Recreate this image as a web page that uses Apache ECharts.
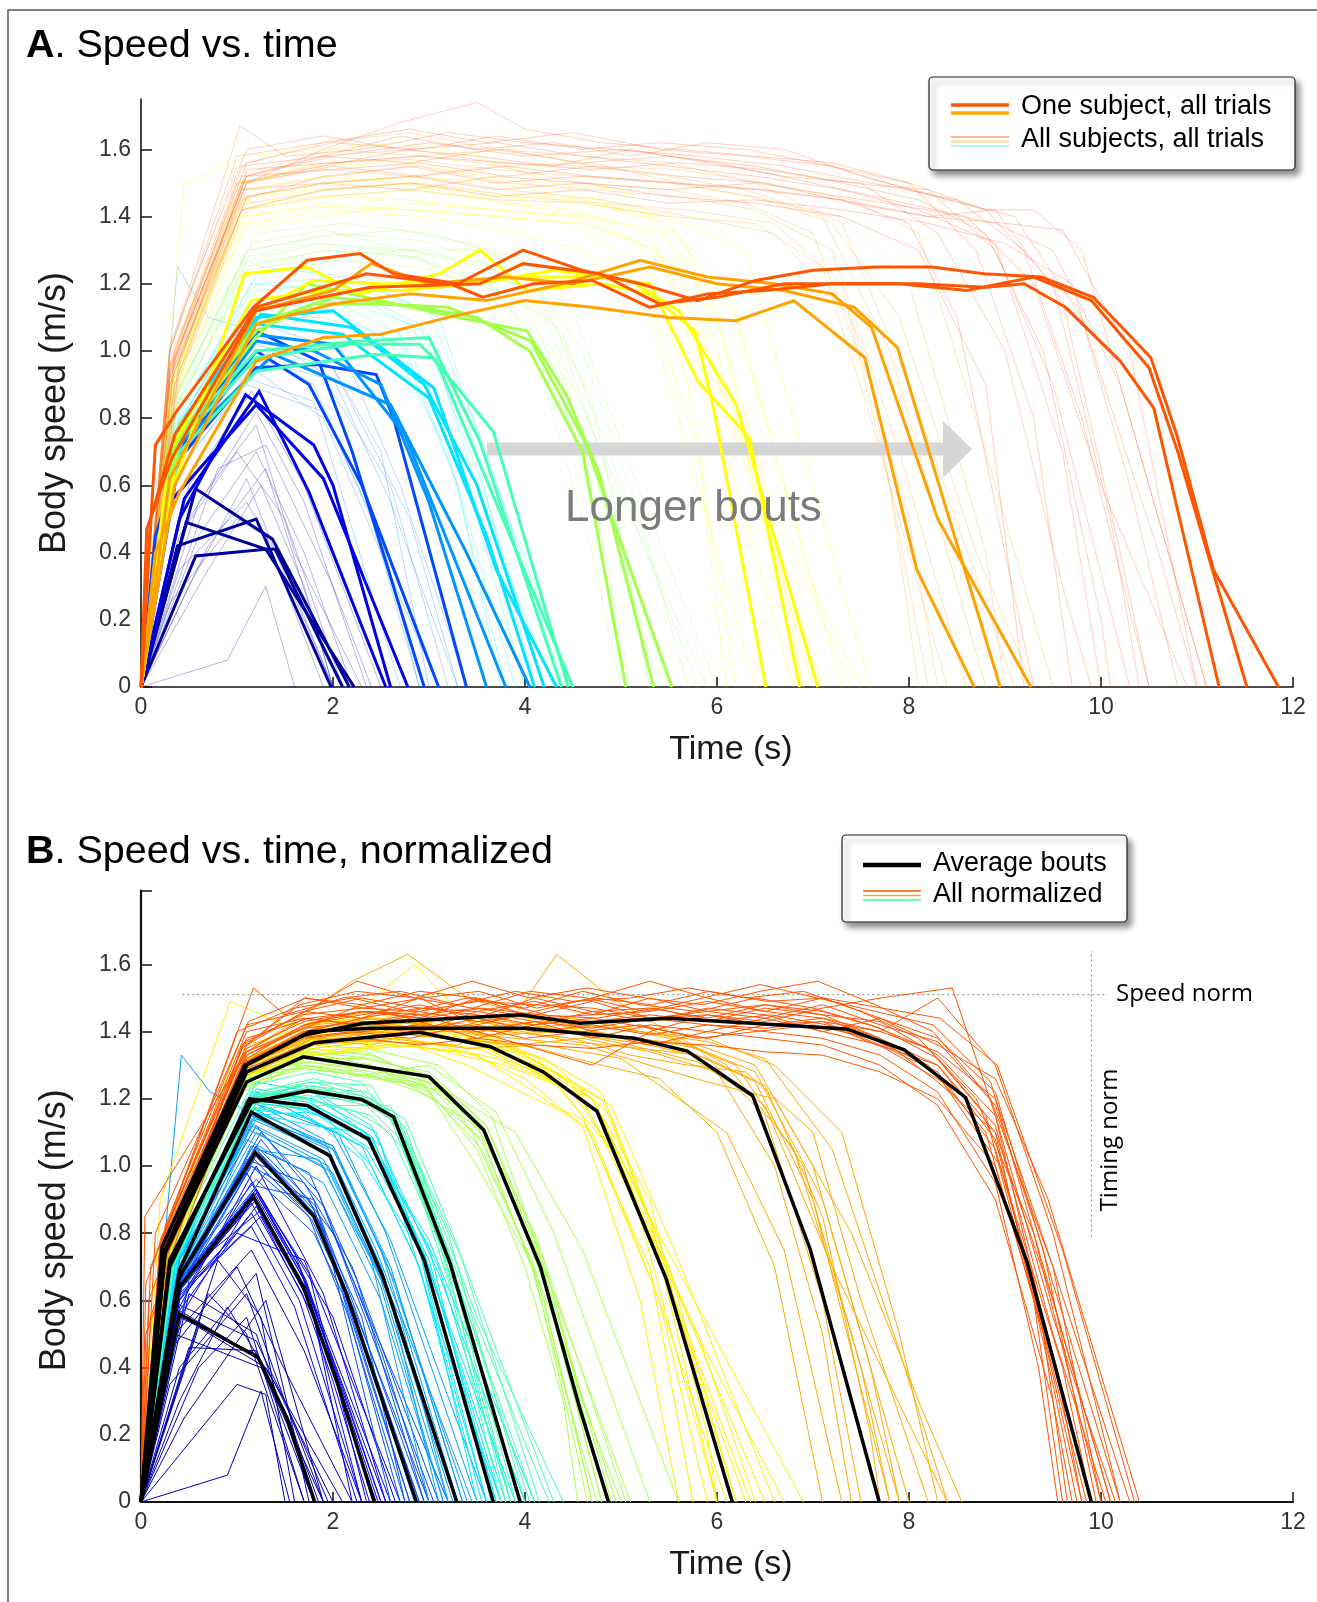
<!DOCTYPE html>
<html>
<head>
<meta charset="utf-8">
<script src="https://cdn.jsdelivr.net/npm/echarts@6.0.0/dist/echarts.min.js"></script>
<style>
  html, body { margin: 0; padding: 0; background: #fff; }
  #chart { width: 1317px; height: 1602px; }
</style>
</head>
<body>
<div id="chart"></div>
<script>
  // axis ticks
  var xTicks = [0, 2, 4, 6, 8, 10, 12];
  var yTicks = [0, 0.2, 0.4, 0.6, 0.8, 1.0, 1.2, 1.4, 1.6];
  var yMaxA = 1.75;
  var yMaxB = 1.82;

  // normalisation guides in panel B
  var speedNorm = 1.51;
  var speedNormSpan = [0.43, 10.07];
  var timingNorm = 9.9;
  var timingNormSpan = [0.79, 1.64];

  // ---- panel A : one subject, all trials (bold), flat [t, v, t, v, ...]
  var boldNavy = [
    [0,0, .57,.59, 1.37,.44, 2.17,0],
    [0,0, .47,.49, 1.3,.41, 1.4,.41, 2.1,0],
    [0,0, .38,.42, 1.2,.50, 1.98,0],
    [0,0, .57,.39, 1.3,.41, 2.22,0]
  ];
  var boldBlue = [
    [0,0, .4,.5, 1.09,.87, 1.8,.72, 2.0,.6, 2.6,0],
    [0,0, .45,.56, 1.23,.88, 1.75,.58, 2.55,0],
    [0,0, .3,.55, 1.2,.84, 1.9,.62, 2.78,0]
  ];
  var boldMidBlue = [
    [0,0, .15,.45, .45,.72, 1.2,1.06, 1.85,.97, 2.2,.7, 2.95,0],
    [0,0, .4,.68, 1.2,.95, 1.83,.96, 2.45,.93, 2.63,.8, 3.39,0],
    [0,0, .4,.7, 1.2,1.0, 1.75,.9, 2.3,.6, 3.1,0]
  ];
  var boldAzure = [
    [0,0, .4,.72, 1.38,.99, 2.6,.84, 3.39,.40, 4.05,0],
    [0,0, .4,.72, 1.2,1.03, 1.8,1.0, 2.5,.9, 3.0,.55, 3.6,0],
    [0,0, .3,.68, 1.15,1.05, 2.0,1.02, 2.75,.75, 3.8,0]
  ];
  var boldCyan = [
    [0,0, .35,.75, 1.2,1.1, 2.0,1.12, 3.05,.89, 3.15,.81, 3.7,.35, 4.33,0],
    [0,0, .35,.72, 1.2,1.08, 2.1,1.05, 3.0,.86, 3.6,.45, 4.1,0],
    [0,0, .4,.78, 1.25,1.11, 2.2,1.07, 2.95,.9, 3.5,.6, 4.2,0]
  ];
  var boldTeal = [
    [0,0, .4,.7, 1.2,.94, 2.45,.99, 3.04,.98, 3.67,.76, 4.45,0],
    [0,0, .4,.75, 1.2,1.0, 2.3,1.03, 3.0,1.04, 3.53,.73, 4.38,0],
    [0,0, .4,.73, 1.2,.98, 2.2,1.02, 2.9,1.02, 3.08,.97, 3.36,.78, 4.5,0]
  ];
  var boldGreen = [
    [0,0, .4,.75, 1.17,1.03, 1.73,1.2, 2.5,1.15, 3.29,1.1, 4.02,1.06, 4.43,.87, 4.78,.63, 5.34,0],
    [0,0, .4,.78, 1.2,1.06, 1.8,1.14, 2.5,1.14, 3.2,1.13, 4.06,1.03, 4.44,.83, 4.64,.72, 5.53,0],
    [0,0, .35,.72, 1.2,1.08, 2.0,1.16, 2.9,1.13, 3.5,1.1, 4.05,1.0, 4.6,.7, 5.05,0]
  ];
  var boldYellow = [
    [0,0, .32,.58, 1.08,1.23, 1.73,1.25, 2.28,1.17, 3.11,1.23, 3.53,1.3, 4.02,1.18, 4.8,1.2, 5.3,1.17, 5.77,1.06, 5.95,.85, 6.51,0],
    [0,0, .35,.65, 1.2,1.12, 1.8,1.21, 2.5,1.2, 3.3,1.2, 4.0,1.22, 4.7,1.22, 5.3,1.2, 5.8,.91, 6.34,.74, 6.86,0],
    [0,0, .3,.7, 1.15,1.15, 1.9,1.18, 2.7,1.18, 3.5,1.2, 4.3,1.24, 5.1,1.21, 5.6,1.12, 6.2,.84, 7.05,0]
  ];
  var boldOrange = [
    [0,0, .15,.4, .4,.58, 1.2,.97, 1.9,1.04, 2.5,1.05, 3.2,1.1, 4.0,1.15, 4.7,1.13, 5.5,1.1, 6.2,1.09, 6.8,1.15, 7.54,.98, 8.08,.35, 8.68,0],
    [0,0, .3,.62, 1.2,1.12, 2.0,1.18, 2.4,1.26, 3.0,1.2, 3.8,1.22, 4.5,1.2, 5.3,1.25, 6.0,1.2, 6.7,1.18, 7.43,1.13, 7.88,1.01, 8.95,0],
    [0,0, .35,.6, 1.2,1.08, 2.0,1.14, 2.8,1.17, 3.6,1.15, 4.4,1.2, 5.2,1.27, 5.9,1.22, 6.6,1.2, 7.2,1.17, 7.61,1.07, 8.3,.5, 9.27,0]
  ];
  var boldRed = [
    [0,0, .15,.72, .37,.82, 1.17,1.13, 1.73,1.27, 2.28,1.29, 2.63,1.23, 3.3,1.2, 3.98,1.3, 4.6,1.24, 5.2,1.2, 5.8,1.15, 6.4,1.21, 7.0,1.24, 7.65,1.25, 8.24,1.25, 8.78,1.23, 9.38,1.22, 9.92,1.16, 10.52,.98, 10.79,.75, 11.17,.35, 11.85,0],
    [0,0, .06,.47, .32,.68, 1.19,1.12, 2.39,1.19, 3.53,1.2, 3.98,1.26, 4.78,1.23, 5.4,1.14, 6.0,1.16, 6.7,1.2, 7.4,1.2, 8.1,1.2, 8.8,1.19, 9.2,1.2, 9.63,1.13, 10.2,.97, 10.55,.83, 11.23,0],
    [0,0, .1,.5, .35,.75, 1.2,1.13, 2.35,1.23, 3.22,1.2, 3.56,1.16, 4.09,1.2, 4.7,1.21, 5.3,1.13, 5.9,1.17, 6.5,1.18, 7.2,1.2, 7.9,1.2, 8.6,1.18, 9.3,1.22, 9.9,1.15, 10.5,.95, 10.8,.7, 11.52,0]
  ];

  // ---- panel A : all subjects, all trials (pale)
  var paleNavy = [
    [0,0, .5,.3, 1.1,.62, 1.4,.4, 2.0,0],
    [0,0, .9,.08, 1.3,.3, 1.6,0],
    [0,0, .6,.55, 1.2,.78, 1.6,.4, 2.3,0],
    [0,0, .4,.45, 1.0,.7, 1.5,.5, 2.1,0],
    [0,0, .7,.35, 1.25,.6, 1.7,.3, 2.0,0],
    [0,0, .5,.6, 1.15,.88, 1.7,.6, 2.5,0],
    [0,0, .3,.25, 1.0,.5, 1.3,.45, 1.9,0],
    [0,0, .8,.65, 1.3,.72, 2.0,.3, 2.4,0],
    [0,0, .6,.45, 1.2,.7, 1.7,.4, 2.2,0],
    [0,0, .4,.35, 1.1,.55, 1.5,.35, 2.0,0],
    [0,0, .5,.5, 1.2,.82, 1.7,.55, 2.35,0],
    [0,0, .7,.42, 1.3,.65, 1.8,.2, 2.0,0]
  ];
  var paleBlue = [
    [0,0, .4,.7, 1.2,1.0, 1.8,.9, 2.4,.5, 2.9,0],
    [0,0, .35,.65, 1.15,.95, 1.9,.8, 3.1,0],
    [0,0, .4,.72, 1.2,1.05, 2.0,.92, 2.6,.55, 3.3,0],
    [0,0, .3,.6, 1.1,.92, 1.8,.85, 2.7,0],
    [0,0, .45,.75, 1.25,1.08, 2.1,1.0, 2.7,.6, 3.4,0],
    [0,0, .38,1.25, .7,1.1, 1.3,1.05, 2.0,.95, 2.8,.5, 3.3,0],
    [0,0, .35,.66, 1.15,.98, 1.9,.92, 2.6,.6, 3.2,0],
    [0,0, .4,.7, 1.2,1.02, 2.0,.95, 2.5,.7, 3.0,0],
    [0,0, .3,.62, 1.1,.9, 1.9,.82, 2.5,.45, 2.9,0]
  ];
  var paleCyan = [
    [0,0, .4,.8, 1.2,1.15, 2.0,1.12, 2.8,1.0, 3.4,.6, 4.0,0],
    [0,0, .35,.78, 1.15,1.2, 2.1,1.18, 3.0,1.05, 3.6,.5, 4.3,0],
    [0,0, .3,.75, 1.1,1.1, 1.9,1.1, 2.6,1.02, 3.2,.7, 3.8,0],
    [0,0, .4,.82, 1.25,1.25, 2.2,1.22, 3.1,1.1, 3.7,.6, 4.5,0],
    [0,0, .35,.76, 1.2,1.18, 2.0,1.2, 2.9,1.08, 3.5,.65, 4.2,0],
    [0,0, .3,.7, 1.1,1.12, 2.0,1.15, 2.7,1.05, 3.3,.6, 3.9,0],
    [0,0, .35,.76, 1.15,1.15, 2.0,1.16, 2.8,1.08, 3.4,.8, 4.1,0],
    [0,0, .35,.8, 1.2,1.2, 2.1,1.22, 3.0,1.12, 3.6,.7, 4.4,0],
    [0,0, .3,.72, 1.1,1.1, 1.9,1.12, 2.7,1.02, 3.3,.6, 3.75,0]
  ];
  var paleGreen = [
    [0,0, .3,.85, 1.1,1.25, 1.9,1.3, 2.8,1.28, 3.6,1.2, 4.3,1.0, 4.9,.5, 5.5,0],
    [0,0, .35,.8, 1.15,1.3, 2.0,1.35, 2.9,1.33, 3.8,1.25, 4.4,.9, 5.0,.4, 5.4,0],
    [0,0, .3,.9, 1.1,1.28, 1.8,1.32, 2.6,1.3, 3.5,1.22, 4.2,1.1, 4.8,.7, 5.9,0],
    [0,0, .4,.88, 1.2,1.35, 2.1,1.38, 3.0,1.35, 3.9,1.28, 4.6,1.0, 5.2,.5, 5.7,0],
    [0,0, .3,.8, 1.1,1.22, 2.0,1.27, 2.9,1.25, 3.7,1.18, 4.3,.95, 4.8,.45, 5.1,0],
    [0,0, .35,.86, 1.15,1.32, 1.9,1.36, 2.8,1.3, 3.6,1.3, 4.5,1.12, 5.1,.65, 6.0,0],
    [0,0, .3,.82, 1.1,1.3, 1.9,1.34, 2.7,1.36, 3.4,1.32, 4.0,1.25, 4.7,.85, 5.3,0],
    [0,0, .3,.84, 1.1,1.27, 1.9,1.32, 2.8,1.3, 3.6,1.26, 4.3,1.1, 4.9,.6, 5.3,0],
    [0,0, .35,.82, 1.1,1.24, 1.9,1.28, 2.8,1.3, 3.7,1.24, 4.4,1.05, 5.0,.6, 5.8,0],
    [0,0, .3,.8, 1.15,1.26, 2.0,1.3, 2.9,1.28, 3.6,1.15, 4.2,.9, 4.7,.4, 5.0,0]
  ];
  var paleYellow = [
    [0,0, .3,.9, 1.0,1.45, 1.8,1.48, 2.7,1.5, 3.6,1.45, 4.5,1.42, 5.3,1.35, 5.9,1.0, 6.6,.4, 7.0,0],
    [0,0, .35,.85, 1.1,1.4, 1.9,1.44, 2.8,1.42, 3.7,1.4, 4.6,1.38, 5.4,1.3, 6.0,.8, 6.8,0],
    [0,0, .3,.95, 1.0,1.5, 1.8,1.55, 2.7,1.56, 3.6,1.52, 4.4,1.48, 5.2,1.42, 5.9,1.2, 6.5,.6, 7.4,0],
    [0,0, .4,.9, 1.1,1.38, 2.0,1.42, 2.9,1.4, 3.8,1.36, 4.6,1.3, 5.3,1.1, 5.9,.5, 6.4,0],
    [0,0, .3,.88, 1.05,1.48, 1.9,1.52, 2.8,1.5, 3.7,1.47, 4.6,1.45, 5.5,1.38, 6.2,1.1, 7.0,.3, 7.5,0],
    [0,0, .35,.92, 1.1,1.42, 2.0,1.46, 2.9,1.48, 3.8,1.44, 4.7,1.4, 5.6,1.25, 6.3,.7, 6.9,0],
    [0,0, .45,1.5, 1.1,1.58, 1.9,1.6, 2.7,1.62, 3.5,1.58, 4.3,1.5, 5.0,1.48, 5.7,1.3, 6.4,.6, 7.1,0],
    [0,0, .3,.86, 1.0,1.36, 1.9,1.4, 2.8,1.44, 3.7,1.42, 4.5,1.4, 5.2,1.32, 5.7,.9, 6.2,0],
    [0,0, .3,.9, 1.05,1.44, 1.9,1.46, 2.8,1.45, 3.7,1.42, 4.6,1.4, 5.4,1.36, 6.0,1.1, 6.7,.3, 6.9,0],
    [0,0, .35,.92, 1.1,1.46, 1.9,1.5, 2.8,1.52, 3.7,1.5, 4.6,1.45, 5.4,1.4, 6.1,1.2, 6.8,.5, 7.3,0],
    [0,0, .3,.86, 1.0,1.4, 1.9,1.43, 2.8,1.42, 3.7,1.4, 4.5,1.38, 5.2,1.25, 5.8,.7, 6.1,0],
    [0,0, .3,.88, 1.05,1.42, 1.9,1.48, 2.8,1.5, 3.7,1.46, 4.6,1.44, 5.5,1.4, 6.3,1.3, 7.0,.6, 7.6,0]
  ];
  var paleOrange = [
    [0,0, .3,.95, 1.05,1.52, 1.9,1.58, 2.8,1.6, 3.7,1.56, 4.6,1.55, 5.5,1.52, 6.3,1.48, 7.1,1.4, 7.8,1.0, 8.5,.3, 8.8,0],
    [0,0, .35,.9, 1.1,1.48, 2.0,1.52, 2.9,1.55, 3.8,1.5, 4.7,1.48, 5.6,1.46, 6.4,1.42, 7.2,1.3, 7.9,.7, 8.6,0],
    [0,0, .3,1.0, 1.0,1.55, 1.9,1.62, 2.8,1.65, 3.7,1.6, 4.6,1.58, 5.5,1.56, 6.4,1.5, 7.3,1.38, 8.0,.9, 9.1,0],
    [0,0, .4,.92, 1.1,1.46, 2.0,1.5, 2.9,1.52, 3.8,1.48, 4.8,1.45, 5.7,1.4, 6.6,1.35, 7.4,1.1, 8.0,.5, 8.3,0],
    [0,0, .3,.96, 1.05,1.5, 1.9,1.56, 2.8,1.57, 3.7,1.54, 4.6,1.52, 5.5,1.5, 6.4,1.46, 7.2,1.38, 7.9,1.1, 8.7,.4, 9.3,0],
    [0,0, .35,.88, 1.1,1.44, 2.0,1.48, 2.9,1.5, 3.9,1.46, 4.8,1.44, 5.7,1.42, 6.6,1.38, 7.3,1.2, 7.8,.6, 8.1,0],
    [0,0, .3,.93, 1.05,1.5, 1.9,1.54, 2.8,1.52, 3.7,1.55, 4.6,1.5, 5.5,1.48, 6.3,1.44, 7.0,1.35, 7.6,.9, 8.2,0],
    [0,0, .35,.94, 1.1,1.5, 2.0,1.56, 2.9,1.58, 3.8,1.55, 4.7,1.56, 5.6,1.5, 6.5,1.45, 7.3,1.4, 8.0,1.2, 8.8,.4, 9.0,0],
    [0,0, .3,.9, 1.05,1.42, 1.9,1.46, 2.8,1.48, 3.7,1.45, 4.6,1.44, 5.5,1.4, 6.4,1.38, 7.1,1.25, 7.6,.8, 8.4,0],
    [0,0, .3,.98, 1.1,1.53, 2.0,1.6, 2.9,1.58, 3.8,1.6, 4.7,1.55, 5.6,1.54, 6.5,1.5, 7.4,1.45, 8.1,1.35, 8.8,.7, 9.5,0]
  ];
  var paleRed = [
    [0,0, .3,1.0, 1.03,1.67, 1.5,1.58, 2.3,1.6, 3.2,1.65, 4.0,1.62, 4.9,1.6, 5.8,1.58, 6.7,1.55, 7.6,1.5, 8.5,1.45, 9.2,1.3, 9.8,.8, 10.5,0],
    [0,0, .3,.95, 1.1,1.5, 1.9,1.6, 2.7,1.68, 3.5,1.74, 4.0,1.66, 4.8,1.62, 5.6,1.6, 6.4,1.58, 7.2,1.56, 8.0,1.5, 8.8,1.42, 9.5,1.2, 10.1,.5, 10.4,0],
    [0,0, .35,.98, 1.1,1.52, 1.9,1.58, 2.7,1.64, 3.5,1.6, 4.3,1.62, 5.1,1.58, 5.9,1.62, 6.7,1.6, 7.5,1.52, 8.3,1.46, 9.1,1.4, 9.8,1.1, 10.6,.4, 11.0,0],
    [0,0, .3,.9, 1.05,1.45, 1.9,1.52, 2.8,1.55, 3.7,1.5, 4.6,1.52, 5.5,1.5, 6.4,1.48, 7.3,1.45, 8.2,1.4, 8.9,1.42, 9.6,1.15, 10.2,.4, 10.5,0],
    [0,0, .3,1.02, 1.1,1.6, 1.9,1.64, 2.7,1.6, 3.5,1.58, 4.3,1.55, 5.1,1.6, 5.9,1.56, 6.7,1.52, 7.5,1.5, 8.3,1.35, 9.0,1.0, 9.6,.3, 9.9,0],
    [0,0, .4,.96, 1.1,1.54, 2.0,1.56, 2.9,1.58, 3.8,1.56, 4.7,1.54, 5.6,1.56, 6.5,1.54, 7.4,1.5, 8.2,1.48, 8.9,1.3, 9.5,.9, 10.3,0],
    [0,0, .3,.93, 1.0,1.5, 1.9,1.55, 2.8,1.6, 3.7,1.62, 4.6,1.58, 5.5,1.55, 6.4,1.52, 7.3,1.48, 8.1,1.42, 8.9,1.32, 9.6,.7, 10.0,0],
    [0,0, .35,1.0, 1.1,1.56, 2.0,1.62, 2.9,1.6, 3.7,1.64, 4.6,1.6, 5.4,1.62, 6.3,1.6, 7.2,1.55, 8.0,1.48, 8.8,1.42, 9.3,1.42, 9.8,1.3, 10.6,.5, 11.1,0],
    [0,0, .3,.92, 1.05,1.48, 1.9,1.5, 2.8,1.52, 3.7,1.48, 4.6,1.5, 5.5,1.46, 6.4,1.44, 7.3,1.4, 8.1,1.3, 8.8,.9, 9.2,0],
    [0,0, .35,.97, 1.1,1.52, 2.0,1.58, 3.0,1.62, 4.0,1.58, 5.0,1.6, 6.0,1.56, 7.0,1.5, 7.8,1.45, 8.6,1.4, 9.3,1.2, 10.0,.6, 10.9,0],
    [0,0, .3,.96, 1.05,1.55, 1.9,1.58, 2.8,1.56, 3.7,1.6, 4.6,1.56, 5.5,1.58, 6.4,1.55, 7.3,1.5, 8.1,1.45, 8.8,1.35, 9.4,1.0, 10.0,.2, 10.1,0],
    [0,0, .35,.9, 1.1,1.46, 1.9,1.5, 2.8,1.48, 3.7,1.52, 4.6,1.5, 5.5,1.48, 6.4,1.5, 7.3,1.46, 8.2,1.42, 8.9,1.38, 9.5,1.3, 10.2,.9, 10.9,.2, 11.1,0],
    [0,0, .3,1.0, 1.0,1.58, 1.9,1.62, 2.8,1.66, 3.6,1.62, 4.5,1.65, 5.4,1.6, 6.3,1.58, 7.2,1.55, 8.0,1.5, 8.7,1.3, 9.3,.8, 9.7,0],
    [0,0, .3,.94, 1.1,1.52, 2.0,1.54, 2.9,1.56, 3.8,1.52, 4.7,1.55, 5.6,1.52, 6.5,1.5, 7.4,1.44, 8.2,1.4, 9.0,1.38, 9.6,1.36, 10.3,1.0, 11.0,0],
    [0,0, .4,.98, 1.1,1.5, 2.0,1.55, 2.9,1.52, 3.8,1.55, 4.7,1.52, 5.6,1.5, 6.5,1.48, 7.3,1.45, 8.0,1.38, 8.5,1.1, 9.0,.4, 9.3,0],
    [0,0, .3,.92, 1.05,1.42, 1.9,1.48, 2.8,1.5, 3.7,1.46, 4.6,1.48, 5.5,1.44, 6.4,1.45, 7.3,1.42, 8.2,1.38, 9.0,1.32, 9.7,1.2, 10.3,.6, 10.8,0]
  ];

  // ---- panel B : all normalized bouts, grouped by duration
  var normNavy = [
    [0,0, .3,.35, 1.1,.62, 1.5,.3, 1.9,0],
    [0,0, .5,.46, 1.2,.45, 1.8,0],
    [0,0, .6,.52, 1.3,.4, 2.1,0],
    [0,0, .7,.62, 1.1,.5, 1.7,0],
    [0,0, .4,.3, .9,.58, 1.4,.35, 2.0,0],
    [0,0, .3,.45, 1.0,.7, 1.45,.42, 2.2,0],
    [0,0, .8,.72, 1.25,.55, 1.6,0],
    [0,0, .45,.25, 1.3,.6, 1.9,0],
    [0,0, .9,.08, 1.25,.33, 1.55,0],
    [0,0, .35,.5, 1.15,.75, 1.7,.45, 2.3,0],
    [0,0, .4,.4, 1.2,.68, 1.6,.2, 1.75,0],
    [0,0, 1.0,.35, 1.3,.32, 1.5,0],
    [0,0, .4,.55, 1.2,.44, 1.5,.26, 1.8,0],
    [0,0, .4,.57, 1.22,.43, 1.55,.24, 1.85,0],
    [0,0, .5,.62, 1.2,.5, 1.8,0],
    [0,0, .35,.5, 1.25,.4, 1.9,0],
    [0,0, .6,.4, 1.1,.55, 1.7,0],
    [0,0, .3,.6, 1.2,.48, 1.5,.3, 1.95,0]
  ];
  var normBlue = [
    [0,0, .4,.6, 1.15,.95, 1.7,.66, 2.5,0],
    [0,0, .35,.55, 1.2,.88, 1.75,.6, 2.3,0],
    [0,0, .45,.7, 1.1,.98, 1.6,.74, 2.6,0],
    [0,0, .4,.62, 1.25,.85, 1.8,.55, 2.2,0],
    [0,0, .3,.5, 1.2,.92, 1.65,.7, 2.1,.3, 2.45,0],
    [0,0, .5,.65, 1.0,.8, 1.7,.72, 2.7,0],
    [0,0, .4,.58, 1.2,1.0, 1.9,.62, 2.55,0],
    [0,0, .45,.68, 1.3,.88, 1.75,.68, 2.35,0],
    [0,0, .35,.6, 1.15,.82, 1.6,.58, 2.25,0],
    [0,0, .4,.66, 1.2,.93, 2.0,.55, 2.65,0],
    [0,0, .4,.63, 1.17,.9, 1.7,.64, 2.05,.36, 2.42,0],
    [0,0, .4,.65, 1.18,.92, 1.7,.66, 2.1,.34, 2.5,0],
    [0,0, .38,.62, 1.15,.89, 1.68,.62, 2.0,.36, 2.38,0],
    [0,0, .42,.66, 1.2,.93, 1.72,.66, 2.1,.32, 2.47,0],
    [0,0, .4,.6, 1.15,.86, 1.65,.6, 2.3,0],
    [0,0, .4,.64, 1.2,.9, 1.75,.62, 2.55,0]
  ];
  var normMidBlue = [
    [0,0, .4,.65, 1.2,1.05, 1.8,.86, 2.15,.6, 2.9,0],
    [0,0, .35,.6, 1.15,1.0, 1.75,.9, 2.3,.55, 2.75,0],
    [0,0, .45,.7, 1.25,1.1, 1.85,.92, 2.4,.5, 3.05,0],
    [0,0, .4,.68, 1.2,.96, 1.8,.8, 2.1,.62, 2.7,0],
    [0,0, .3,.58, 1.1,1.02, 1.7,.95, 2.2,.7, 3.1,0],
    [0,0, .4,.72, 1.2,1.12, 1.9,.88, 2.5,.45, 3.0,0],
    [0,0, .5,.66, 1.3,.98, 1.9,.82, 2.6,0],
    [0,0, .4,.62, 1.15,1.06, 1.75,.98, 2.25,.66, 2.95,0],
    [0,0, .35,.64, 1.2,.94, 1.8,.9, 2.35,.4, 2.8,0],
    [0,0, .45,.7, 1.25,1.08, 2.0,.8, 3.2,0],
    [0,0, .4,.66, 1.19,1.03, 1.8,.86, 2.15,.62, 2.85,0],
    [0,0, .4,.68, 1.2,1.05, 1.8,.87, 2.2,.58, 2.9,0],
    [0,0, .38,.65, 1.18,1.02, 1.78,.84, 2.1,.64, 2.8,0],
    [0,0, .42,.69, 1.2,1.06, 1.82,.88, 2.2,.6, 2.95,0],
    [0,0, .4,.64, 1.15,1.0, 1.75,.85, 2.15,.56, 2.75,0],
    [0,0, .4,.67, 1.22,1.04, 1.85,.84, 2.25,.55, 3.0,0]
  ];
  var normAzure = [
    [0,0, .4,.7, 1.15,1.15, 1.95,1.05, 2.5,.7, 3.3,0],
    [0,0, .35,.66, 1.2,1.1, 2.0,.98, 2.6,.6, 3.1,0],
    [0,0, .4,.72, 1.1,1.2, 1.9,1.08, 2.45,.75, 3.45,0],
    [0,0, .3,.62, 1.15,1.12, 1.95,1.0, 2.7,.55, 3.2,0],
    [0,0, .45,.74, 1.25,1.18, 2.05,1.1, 2.55,.8, 3.5,0],
    [0,0, .4,.68, 1.15,1.05, 1.85,1.02, 2.4,.72, 3.0,0],
    [0,0, .35,.7, 1.2,1.14, 2.0,1.06, 2.65,.65, 3.35,0],
    [0,0, .4,.64, 1.1,1.08, 1.9,.95, 2.5,.6, 3.15,0],
    [0,0, .42,.76, 1.2,1.22, 2.0,1.1, 2.6,.78, 3.6,0],
    [0,0, .42,1.33, .72,1.22, 1.2,1.15, 2.0,1.05, 2.5,.75, 3.3,0],
    [0,0, .4,.69, 1.15,1.14, 1.95,1.04, 2.5,.7, 3.3,0],
    [0,0, .38,.68, 1.12,1.13, 1.9,1.02, 2.5,.66, 3.2,0],
    [0,0, .42,.71, 1.18,1.17, 2.0,1.05, 2.55,.72, 3.4,0],
    [0,0, .4,.7, 1.15,1.15, 1.95,1.03, 2.45,.73, 3.25,0],
    [0,0, .36,.66, 1.1,1.11, 1.9,1.0, 2.5,.64, 3.15,0],
    [0,0, .4,.72, 1.2,1.16, 2.0,1.06, 2.6,.7, 3.35,0]
  ];
  var normCyan = [
    [0,0, .3,.7, 1.13,1.2, 1.73,1.18, 2.37,1.08, 2.95,.72, 3.7,0],
    [0,0, .35,.72, 1.15,1.22, 1.8,1.2, 2.45,1.1, 3.05,.65, 3.9,0],
    [0,0, .3,.66, 1.1,1.15, 1.7,1.16, 2.3,1.02, 2.9,.75, 3.5,0],
    [0,0, .4,.75, 1.2,1.25, 1.8,1.22, 2.4,1.12, 3.1,.68, 4.0,0],
    [0,0, .3,.68, 1.1,1.18, 1.75,1.14, 2.35,1.05, 2.85,.8, 3.6,0],
    [0,0, .35,.7, 1.15,1.2, 1.7,1.24, 2.5,1.06, 3.0,.6, 3.75,0],
    [0,0, .3,.64, 1.12,1.16, 1.8,1.12, 2.3,1.1, 3.0,.78, 4.1,0],
    [0,0, .38,.74, 1.2,1.23, 1.75,1.2, 2.4,1.0, 2.9,.7, 3.55,0],
    [0,0, .32,.69, 1.1,1.19, 1.7,1.17, 2.4,1.08, 3.1,.7, 3.85,0],
    [0,0, .36,.71, 1.18,1.21, 1.85,1.15, 2.45,1.04, 3.0,.76, 3.65,0],
    [0,0, .3,.69, 1.12,1.19, 1.75,1.17, 2.4,1.07, 3.0,.72, 3.7,0],
    [0,0, .35,.72, 1.15,1.21, 1.75,1.19, 2.35,1.1, 2.95,.74, 3.8,0],
    [0,0, .3,.68, 1.1,1.17, 1.7,1.15, 2.3,1.06, 2.9,.7, 3.6,0],
    [0,0, .34,.71, 1.15,1.2, 1.8,1.18, 2.4,1.09, 3.0,.7, 3.75,0]
  ];
  var normTeal = [
    [0,0, .3,.72, 1.15,1.19, 1.74,1.22, 2.3,1.2, 2.63,1.15, 3.22,.71, 3.95,0],
    [0,0, .35,.75, 1.2,1.22, 1.8,1.26, 2.35,1.22, 2.7,1.12, 3.3,.65, 4.1,0],
    [0,0, .3,.7, 1.1,1.15, 1.7,1.2, 2.25,1.16, 2.6,1.1, 3.15,.75, 3.8,0],
    [0,0, .32,.74, 1.18,1.2, 1.75,1.25, 2.4,1.24, 2.8,1.05, 3.4,.6, 4.25,0],
    [0,0, .3,.68, 1.12,1.17, 1.7,1.18, 2.3,1.18, 2.6,1.18, 3.2,.8, 4.0,0],
    [0,0, .35,.73, 1.2,1.21, 1.8,1.23, 2.3,1.21, 2.75,1.12, 3.25,.7, 3.9,0],
    [0,0, .28,.7, 1.1,1.18, 1.72,1.21, 2.35,1.19, 2.65,1.16, 3.35,.72, 4.3,0],
    [0,0, .33,.76, 1.15,1.24, 1.78,1.28, 2.3,1.25, 2.7,1.1, 3.2,.66, 3.75,0],
    [0,0, .3,.71, 1.15,1.2, 1.75,1.2, 2.4,1.15, 2.9,1.0, 3.5,.55, 4.4,0],
    [0,0, .35,.72, 1.2,1.19, 1.8,1.24, 2.25,1.2, 2.6,1.14, 3.1,.78, 3.85,0],
    [0,0, .3,.72, 1.15,1.2, 1.75,1.23, 2.3,1.2, 2.7,1.12, 3.25,.7, 3.95,0],
    [0,0, .32,.73, 1.15,1.21, 1.7,1.24, 2.3,1.22, 2.65,1.14, 3.2,.74, 4.05,0],
    [0,0, .3,.7, 1.12,1.18, 1.75,1.22, 2.35,1.18, 2.7,1.08, 3.3,.62, 3.85,0],
    [0,0, .33,.74, 1.18,1.22, 1.8,1.25, 2.4,1.2, 2.75,1.14, 3.3,.76, 4.15,0]
  ];
  var normGreen = [
    [0,0, .25,.74, 1.1,1.25, 1.7,1.33, 2.3,1.3, 3.0,1.27, 3.57,1.1, 4.16,.7, 4.57,.28, 4.87,0],
    [0,0, .3,.76, 1.1,1.28, 1.75,1.35, 2.4,1.33, 3.05,1.25, 3.6,1.05, 4.2,.6, 4.7,0],
    [0,0, .25,.7, 1.05,1.22, 1.65,1.3, 2.3,1.28, 2.9,1.22, 3.5,1.12, 4.1,.78, 4.6,.3, 5.0,0],
    [0,0, .3,.75, 1.15,1.27, 1.7,1.36, 2.35,1.35, 3.1,1.3, 3.65,1.15, 4.25,.66, 4.9,0],
    [0,0, .25,.72, 1.1,1.24, 1.7,1.3, 2.4,1.26, 2.95,1.24, 3.5,1.0, 4.05,.72, 4.4,.35, 4.75,0],
    [0,0, .28,.74, 1.1,1.26, 1.75,1.32, 2.3,1.32, 3.0,1.28, 3.6,1.12, 4.3,.62, 5.1,0],
    [0,0, .25,.73, 1.12,1.25, 1.68,1.34, 2.4,1.3, 3.05,1.2, 3.55,1.08, 4.1,.68, 4.5,.2, 4.65,0],
    [0,0, .3,.77, 1.1,1.28, 1.7,1.29, 2.3,1.27, 3.0,1.3, 3.7,1.16, 4.3,.8, 5.3,0],
    [0,0, .26,.71, 1.08,1.23, 1.72,1.33, 2.35,1.34, 2.95,1.26, 3.45,1.1, 4.0,.76, 4.5,.4, 4.95,0],
    [0,0, .25,.75, 1.1,1.27, 1.7,1.31, 2.4,1.29, 3.1,1.24, 3.65,1.06, 4.2,.66, 4.8,0],
    [0,0, .3,.74, 1.1,1.26, 1.8,1.3, 2.5,1.26, 3.2,1.22, 3.9,1.1, 4.6,.75, 5.2,.3, 5.6,0],
    [0,0, .25,.73, 1.1,1.26, 1.7,1.32, 2.35,1.3, 3.0,1.25, 3.6,1.1, 4.2,.65, 4.8,0],
    [0,0, .3,.75, 1.1,1.27, 1.75,1.31, 2.4,1.28, 3.0,1.22, 3.55,1.05, 4.1,.7, 4.5,.25, 4.7,0],
    [0,0, .25,.72, 1.05,1.24, 1.7,1.29, 2.3,1.27, 2.9,1.25, 3.5,1.14, 4.1,.8, 4.7,.3, 5.05,0],
    [0,0, .28,.74, 1.1,1.28, 1.75,1.34, 2.4,1.32, 3.0,1.27, 3.6,1.12, 4.2,.72, 4.85,0],
    [0,0, .25,.73, 1.1,1.25, 1.7,1.32, 2.3,1.3, 2.95,1.24, 3.5,1.05, 4.0,.7, 4.4,.3, 4.55,0]
  ];
  var normYellow = [
    [0,0, .25,.74, 1.1,1.3, 1.8,1.37, 2.9,1.4, 3.64,1.36, 4.2,1.28, 4.75,1.16, 5.47,.66, 6.16,0],
    [0,0, .3,.8, 1.0,1.35, 1.75,1.42, 2.5,1.45, 3.3,1.4, 4.0,1.3, 4.6,1.2, 5.3,.8, 6.3,0],
    [0,0, .25,.7, 1.1,1.27, 1.8,1.33, 2.8,1.36, 3.5,1.33, 4.1,1.22, 4.7,1.1, 5.4,.6, 5.9,0],
    [0,0, .2,.9, .93,1.49, 1.5,1.42, 2.4,1.44, 3.2,1.42, 3.9,1.35, 4.5,1.24, 5.1,.95, 6.0,0],
    [0,0, .28,.76, 1.1,1.31, 1.85,1.4, 2.95,1.43, 3.7,1.38, 4.3,1.3, 4.9,1.15, 5.6,.62, 6.5,0],
    [0,0, .25,.72, 1.05,1.26, 1.8,1.35, 2.6,1.38, 3.4,1.3, 4.1,1.2, 4.6,1.14, 5.3,.7, 5.75,0],
    [0,0, .3,.78, 1.12,1.32, 1.9,1.38, 2.85,1.6, 3.5,1.4, 4.2,1.3, 4.8,1.2, 5.5,.7, 6.2,0],
    [0,0, .25,.75, 1.1,1.29, 1.75,1.36, 2.7,1.42, 3.6,1.35, 4.3,1.25, 4.9,1.05, 5.7,.55, 6.7,0],
    [0,0, .27,.73, 1.1,1.27, 1.8,1.34, 2.9,1.37, 3.7,1.32, 4.2,1.26, 4.7,1.2, 5.2,.9, 6.9,0],
    [0,0, .3,.77, 1.1,1.3, 1.8,1.39, 2.8,1.4, 3.5,1.36, 4.1,1.33, 4.6,1.15, 5.4,.6, 6.1,0],
    [0,0, .25,.74, 1.15,1.33, 1.9,1.38, 3.0,1.35, 3.8,1.3, 4.5,1.22, 5.0,1.0, 5.8,.5, 6.4,0],
    [0,0, .25,.74, 1.1,1.3, 1.8,1.36, 2.6,1.4, 3.4,1.37, 4.1,1.3, 4.7,1.2, 5.3,.85, 6.0,0],
    [0,0, .3,.76, 1.1,1.32, 1.85,1.4, 2.7,1.42, 3.5,1.38, 4.2,1.32, 4.8,1.22, 5.4,.75, 6.2,0],
    [0,0, .25,.72, 1.05,1.27, 1.75,1.33, 2.6,1.36, 3.4,1.34, 4.0,1.26, 4.6,1.12, 5.2,.6, 5.6,0],
    [0,0, .28,.75, 1.1,1.29, 1.8,1.37, 2.8,1.4, 3.6,1.36, 4.3,1.28, 4.9,1.18, 5.6,.72, 6.6,0],
    [0,0, .3,.78, 1.12,1.31, 1.85,1.39, 2.75,1.41, 3.6,1.37, 4.2,1.3, 4.7,1.2, 5.3,.9, 5.9,.2, 6.0,0],
    [0,0, .25,.73, 1.1,1.28, 1.8,1.35, 2.7,1.38, 3.5,1.35, 4.2,1.27, 4.8,1.15, 5.5,.65, 6.35,0]
  ];
  var normOrange = [
    [0,0, .25,.75, 1.1,1.3, 1.76,1.4, 2.4,1.41, 3.2,1.42, 4.0,1.41, 4.6,1.4, 5.14,1.38, 5.69,1.34, 6.37,1.21, 6.97,.75, 7.69,0],
    [0,0, .3,.8, 1.05,1.33, 1.7,1.45, 2.2,1.55, 2.78,1.63, 3.4,1.5, 4.0,1.45, 4.6,1.4, 5.2,1.42, 5.8,1.35, 6.5,1.15, 7.1,.6, 7.5,0],
    [0,0, .25,.72, 1.1,1.28, 1.8,1.38, 2.5,1.37, 3.3,1.36, 3.9,1.45, 4.33,1.63, 4.9,1.5, 5.5,1.4, 6.1,1.3, 6.8,1.05, 7.4,.5, 7.9,0],
    [0,0, .3,.77, 1.15,1.32, 1.8,1.42, 2.5,1.44, 3.2,1.4, 3.9,1.38, 4.6,1.36, 5.3,1.3, 5.9,1.25, 6.6,1.2, 7.4,.8, 8.1,.3, 8.55,0],
    [0,0, .25,.74, 1.1,1.3, 1.75,1.38, 2.4,1.36, 3.1,1.42, 3.8,1.4, 4.5,1.38, 5.1,1.33, 5.7,1.3, 6.3,1.28, 7.0,1.1, 7.5,.6, 8.2,0],
    [0,0, .28,.76, 1.1,1.29, 1.8,1.41, 2.4,1.4, 3.2,1.38, 4.0,1.36, 4.8,1.3, 5.4,1.26, 6.0,1.1, 6.6,.7, 7.1,0],
    [0,0, .25,.73, 1.12,1.31, 1.75,1.39, 2.5,1.43, 3.3,1.44, 4.1,1.4, 4.9,1.42, 5.5,1.38, 6.2,1.3, 6.9,1.0, 7.5,.4, 7.8,0],
    [0,0, .3,.78, 1.1,1.34, 1.8,1.43, 2.4,1.46, 3.1,1.45, 3.8,1.43, 4.5,1.4, 5.2,1.38, 5.8,1.35, 6.4,1.28, 7.1,.9, 7.7,.3, 8.0,0],
    [0,0, .25,.72, 1.1,1.27, 1.8,1.36, 2.6,1.38, 3.4,1.35, 4.2,1.36, 5.0,1.32, 5.6,1.2, 6.1,1.1, 6.7,.75, 7.3,0],
    [0,0, .3,.75, 1.1,1.31, 1.7,1.4, 2.3,1.42, 3.0,1.41, 3.7,1.39, 4.4,1.4, 5.1,1.36, 5.8,1.31, 6.5,1.18, 7.2,.7, 8.4,0],
    [0,0, .3,.76, 1.1,1.32, 1.7,1.4, 2.3,1.44, 3.0,1.42, 3.7,1.4, 4.4,1.42, 5.1,1.38, 5.8,1.36, 6.4,1.3, 7.0,1.0, 7.6,.4, 7.9,0],
    [0,0, .25,.74, 1.1,1.3, 1.8,1.38, 2.5,1.4, 3.2,1.44, 3.9,1.42, 4.6,1.39, 5.3,1.36, 5.9,1.32, 6.5,1.24, 7.1,.85, 7.6,.2, 7.7,0],
    [0,0, .3,.78, 1.1,1.33, 1.75,1.42, 2.4,1.38, 3.1,1.4, 3.8,1.45, 4.5,1.42, 5.2,1.4, 5.9,1.38, 6.6,1.3, 7.3,1.1, 7.9,.5, 8.3,0],
    [0,0, .25,.73, 1.1,1.28, 1.8,1.37, 2.5,1.4, 3.2,1.38, 3.9,1.36, 4.6,1.38, 5.3,1.34, 6.0,1.28, 6.6,1.0, 7.1,.5, 7.4,0],
    [0,0, .28,.75, 1.1,1.31, 1.7,1.39, 2.4,1.42, 3.1,1.43, 3.8,1.41, 4.5,1.37, 5.2,1.35, 5.8,1.33, 6.4,1.25, 7.0,.9, 7.8,0],
    [0,0, .3,.77, 1.1,1.32, 1.8,1.41, 2.4,1.43, 3.1,1.4, 3.8,1.42, 4.5,1.44, 5.2,1.4, 5.9,1.37, 6.5,1.32, 7.2,1.05, 7.9,.45, 8.4,0]
  ];
  var normRed = [
    [0,0, .2,.75, 1.1,1.32, 1.7,1.42, 2.3,1.45, 2.9,1.48, 3.5,1.44, 4.1,1.5, 4.7,1.46, 5.3,1.47, 5.9,1.44, 6.5,1.48, 7.1,1.45, 7.7,1.38, 8.3,1.3, 8.9,1.1, 9.5,.6, 10.1,0],
    [0,0, .05,.65, 1.0,1.4, 1.6,1.47, 2.2,1.5, 2.8,1.46, 3.4,1.5, 4.0,1.47, 4.6,1.52, 5.2,1.48, 5.8,1.46, 6.4,1.5, 7.0,1.47, 7.6,1.42, 8.2,1.35, 8.8,1.15, 9.4,.5, 9.8,0],
    [0,0, .25,.8, 1.17,1.53, 1.5,1.45, 2.1,1.5, 2.7,1.52, 3.3,1.48, 3.9,1.52, 4.5,1.49, 5.1,1.5, 5.7,1.53, 6.3,1.5, 6.9,1.52, 7.5,1.46, 8.1,1.38, 8.7,1.2, 9.3,.8, 10.0,0],
    [0,0, .2,.72, 1.1,1.3, 1.7,1.38, 2.3,1.4, 2.9,1.42, 3.5,1.4, 4.1,1.43, 4.7,1.38, 5.3,1.42, 5.9,1.4, 6.5,1.38, 7.1,1.36, 7.7,1.3, 8.3,1.18, 8.9,.9, 9.5,.3, 9.7,0],
    [0,0, .08,.6, 1.05,1.35, 1.65,1.48, 2.25,1.52, 2.85,1.5, 3.45,1.55, 4.05,1.5, 4.65,1.53, 5.25,1.5, 5.85,1.48, 6.45,1.52, 7.05,1.55, 7.65,1.48, 8.25,1.4, 8.85,1.2, 9.5,.7, 10.3,0],
    [0,0, .22,.78, 1.1,1.38, 1.75,1.44, 2.35,1.46, 2.95,1.44, 3.55,1.47, 4.15,1.45, 4.75,1.44, 5.35,1.47, 5.95,1.43, 6.55,1.45, 7.15,1.42, 7.75,1.35, 8.35,1.25, 8.95,1.0, 9.6,.4, 9.9,0],
    [0,0, .2,.74, 1.1,1.36, 1.7,1.5, 2.3,1.48, 2.9,1.52, 3.5,1.5, 4.1,1.46, 4.7,1.5, 5.3,1.55, 5.9,1.5, 6.5,1.46, 7.1,1.5, 7.7,1.44, 8.3,1.36, 8.9,1.26, 9.45,.9, 10.4,0],
    [0,0, .04,.85, 1.1,1.34, 1.7,1.41, 2.3,1.43, 2.9,1.4, 3.5,1.44, 4.1,1.4, 4.7,1.42, 5.3,1.39, 5.9,1.42, 6.5,1.4, 7.1,1.38, 7.7,1.33, 8.3,1.22, 8.9,.95, 9.35,.4, 9.55,0],
    [0,0, .25,.82, 1.1,1.42, 1.7,1.46, 2.3,1.5, 2.9,1.47, 3.5,1.46, 4.1,1.49, 4.7,1.45, 5.3,1.46, 5.9,1.49, 6.5,1.46, 7.1,1.44, 7.7,1.4, 8.3,1.5, 8.9,1.3, 9.5,.8, 10.2,0],
    [0,0, .2,.73, 1.1,1.31, 1.7,1.4, 2.3,1.44, 2.9,1.5, 3.5,1.42, 4.1,1.46, 4.7,1.4, 5.3,1.36, 5.9,1.4, 6.5,1.44, 7.1,1.4, 7.7,1.36, 8.3,1.28, 8.9,1.05, 9.4,.55, 9.9,0],
    [0,0, .2,.77, 1.08,1.37, 1.68,1.45, 2.3,1.47, 2.9,1.46, 3.5,1.49, 4.1,1.48, 4.7,1.47, 5.3,1.44, 5.9,1.46, 6.5,1.48, 7.1,1.46, 7.7,1.41, 8.3,1.32, 8.9,1.12, 9.5,.5, 10.05,0],
    [0,0, .2,.7, 1.1,1.33, 1.7,1.42, 2.3,1.46, 2.9,1.45, 3.5,1.4, 4.1,1.35, 4.7,1.3, 5.3,1.4, 5.9,1.45, 6.5,1.43, 7.1,1.47, 7.7,1.5, 8.45,1.53, 8.9,1.15, 9.6,.3, 9.8,0],
    [0,0, .1,.7, 1.1,1.4, 1.7,1.44, 2.3,1.42, 2.9,1.46, 3.5,1.43, 4.1,1.45, 4.7,1.49, 5.3,1.44, 5.9,1.45, 6.5,1.42, 7.1,1.43, 7.7,1.4, 8.3,1.34, 8.9,1.2, 9.5,.7, 10.0,0],
    [0,0, .2,.7, 1.0,1.3, 1.6,1.38, 2.2,1.4, 2.8,1.38, 3.4,1.42, 4.0,1.38, 4.6,1.4, 5.2,1.42, 5.8,1.38, 6.4,1.4, 7.0,1.42, 7.6,1.38, 8.2,1.3, 8.8,1.1, 9.3,.6, 9.6,0],
    [0,0, .15,.8, 1.12,1.43, 1.72,1.5, 2.32,1.47, 2.92,1.5, 3.52,1.52, 4.12,1.47, 4.72,1.5, 5.32,1.48, 5.92,1.52, 6.52,1.49, 7.12,1.5, 7.72,1.47, 8.32,1.44, 8.92,1.3, 9.6,.75, 10.35,0],
    [0,0, .25,.72, 1.1,1.29, 1.7,1.36, 2.3,1.38, 2.9,1.36, 3.5,1.38, 4.1,1.36, 4.7,1.35, 5.3,1.37, 5.9,1.36, 6.5,1.34, 7.1,1.33, 7.7,1.28, 8.3,1.2, 8.9,1.0, 9.4,.5, 9.65,0],
    [0,0, .1,.55, 1.05,1.36, 1.65,1.45, 2.25,1.55, 2.85,1.5, 3.45,1.47, 4.05,1.52, 4.65,1.5, 5.25,1.46, 5.85,1.5, 6.45,1.54, 7.05,1.5, 7.65,1.46, 8.25,1.42, 8.85,1.25, 9.5,.6, 10.1,0],
    [0,0, .2,.76, 1.1,1.35, 1.7,1.43, 2.3,1.46, 2.9,1.44, 3.5,1.5, 4.1,1.44, 4.7,1.45, 5.3,1.5, 5.9,1.46, 6.5,1.44, 7.1,1.48, 7.7,1.42, 8.3,1.37, 8.9,1.18, 9.4,.75, 9.95,0],
    [0,0, .22,.75, 1.1,1.33, 1.7,1.41, 2.3,1.48, 2.9,1.43, 3.5,1.38, 4.1,1.42, 4.7,1.44, 5.3,1.41, 5.9,1.38, 6.5,1.42, 7.1,1.44, 7.7,1.38, 8.3,1.25, 8.9,1.1, 9.5,.35, 9.75,0],
    [0,0, .2,.78, 1.1,1.36, 1.7,1.46, 2.3,1.44, 2.9,1.47, 3.5,1.45, 4.1,1.42, 4.7,1.46, 5.3,1.43, 5.9,1.47, 6.5,1.45, 7.1,1.4, 7.7,1.44, 8.3,1.38, 8.9,1.22, 9.5,.65, 10.2,0],
    [0,0, .05,.5, 1.1,1.31, 1.7,1.4, 2.3,1.41, 2.9,1.4, 3.5,1.46, 4.1,1.43, 4.7,1.41, 5.3,1.44, 5.9,1.42, 6.5,1.41, 7.1,1.43, 7.7,1.36, 8.3,1.3, 8.9,1.08, 9.45,.45, 9.85,0],
    [0,0, .2,.73, 1.1,1.34, 1.7,1.44, 2.3,1.42, 2.9,1.45, 3.5,1.47, 4.1,1.44, 4.7,1.43, 5.3,1.45, 5.9,1.43, 6.5,1.47, 7.1,1.45, 7.7,1.43, 8.3,1.33, 8.9,1.15, 9.5,.55, 10.15,0]
  ];

  // ---- panel B : average bouts (black)
  var avgBouts = [
    [0,0, .4,.56, 1.22,.43, 1.52,.25, 1.81,0],
    [0,0, .4,.64, 1.17,.91, 1.69,.64, 2.05,.35, 2.43,0],
    [0,0, .4,.67, 1.19,1.04, 1.8,.85, 2.14,.62, 2.87,0],
    [0,0, .4,.69, 1.15,1.16, 1.97,1.03, 2.52,.67, 3.29,0],
    [0,0, .3,.70, 1.13,1.20, 1.73,1.18, 2.37,1.08, 2.95,.72, 3.67,0],
    [0,0, .3,.72, 1.15,1.19, 1.74,1.224, 2.3,1.198, 2.63,1.147, 3.22,.71, 3.95,0],
    [0,0, .25,.74, 1.1,1.25, 1.69,1.325, 3.0,1.266, 3.57,1.107, 4.16,.70, 4.57,.28, 4.87,0],
    [0,0, .25,.74, 1.1,1.28, 1.81,1.367, 2.9,1.398, 3.64,1.355, 4.19,1.28, 4.75,1.163, 5.47,.665, 6.16,0],
    [0,0, .25,.75, 1.1,1.30, 1.76,1.40, 2.39,1.41, 4.0,1.41, 5.14,1.38, 5.69,1.342, 6.37,1.21, 6.97,.753, 7.69,0],
    [0,0, .22,.76, 1.08,1.30, 1.7,1.39, 2.32,1.425, 3.95,1.45, 4.57,1.425, 5.5,1.44, 7.35,1.408, 7.95,1.346, 8.59,1.204, 9.23,.715, 9.9,0]
  ];

  var FONT = '"Liberation Sans", Arial, Helvetica, sans-serif';
  var NOTE_FONT = '"Open Sans", "DejaVu Sans", sans-serif';

  function toPoints(flat) {
    var pts = [];
    for (var i = 0; i < flat.length; i += 2) pts.push([flat[i], flat[i + 1]]);
    return pts;
  }

  var series = [];
  function addLines(lines, color, width, opacity, panel, z) {
    lines.forEach(function (l) {
      series.push({
        type: 'line', xAxisIndex: panel, yAxisIndex: panel,
        data: toPoints(l), symbol: 'none', silent: true, animation: false, z: z,
        lineStyle: { color: color, width: width, opacity: opacity, join: 'miter' }
      });
    });
  }

  // panel A
  addLines(paleNavy, '#0000a8', 1, 0.3, 0, 1);
  addLines(paleBlue, '#0070ff', 1, 0.28, 0, 1);
  addLines(paleCyan, '#00e8ff', 1, 0.28, 0, 1);
  addLines(paleGreen, '#a0ff70', 1, 0.32, 0, 1);
  addLines(paleYellow, '#ffff30', 1, 0.4, 0, 1);
  addLines(paleOrange, '#ffaa30', 1, 0.3, 0, 1);
  addLines(paleRed, '#ff6020', 1, 0.3, 0, 1);

  addLines(boldNavy, '#00009c', 3, 1, 0, 5);
  addLines(boldBlue, '#0000e6', 3, 1, 0, 5);
  addLines(boldMidBlue, '#0048ff', 3, 1, 0, 5);
  addLines(boldAzure, '#0094ff', 3, 1, 0, 5);
  addLines(boldCyan, '#00e4ff', 3, 1, 0, 5);
  addLines(boldTeal, '#44ffb4', 3, 1, 0, 5);
  addLines(boldGreen, '#a4ff4c', 3, 1, 0, 5);
  addLines(boldYellow, '#ffff00', 3, 1, 0, 5);
  addLines(boldOrange, '#ffa200', 3, 1, 0, 5);
  addLines(boldRed, '#ff5500', 3, 1, 0, 5);

  // panel B guides
  series.push({
    type: 'line', xAxisIndex: 1, yAxisIndex: 1, symbol: 'none', silent: true, animation: false, z: 0,
    data: [[speedNormSpan[0], speedNorm], [speedNormSpan[1], speedNorm]],
    lineStyle: { color: '#9a9a9a', width: 1.2, type: [2, 3] }
  });
  series.push({
    type: 'line', xAxisIndex: 1, yAxisIndex: 1, symbol: 'none', silent: true, animation: false, z: 0,
    data: [[timingNorm, timingNormSpan[0]], [timingNorm, timingNormSpan[1]]],
    lineStyle: { color: '#9a9a9a', width: 1.2, type: [2, 3] }
  });

  addLines(normNavy, '#0000b4', 1, 1, 1, 2);
  addLines(normBlue, '#0000f4', 1, 1, 1, 2);
  addLines(normMidBlue, '#0050ff', 1, 1, 1, 2);
  addLines(normAzure, '#00a0ff', 1, 1, 1, 2);
  addLines(normCyan, '#00e8ff', 1, 1, 1, 2);
  addLines(normTeal, '#48ffb0', 1, 1, 1, 2);
  addLines(normGreen, '#a8ff50', 1, 1, 1, 2);
  addLines(normYellow, '#ffee00', 1, 1, 1, 2);
  addLines(normOrange, '#ffaa00', 1, 1, 1, 2);
  addLines(normRed, '#ff5500', 1, 1, 1, 2);
  addLines(avgBouts, '#000000', 3.5, 1, 1, 5);

  function xAxisFor(grid) {
    return {
      gridIndex: grid, type: 'value', min: 0, max: 12, interval: 2,
      name: 'Time (s)', nameLocation: 'middle', nameGap: 46,
      nameTextStyle: { fontSize: 34, color: '#1a1a1a', fontFamily: FONT, padding: [0, 0, 0, 28] },
      axisLine: { show: true, onZero: false, lineStyle: { color: '#111', width: grid ? 2.2 : 1.6 } },
      axisTick: { show: true, inside: true, length: 10, customValues: xTicks, lineStyle: { color: '#111', width: 1.5 } },
      axisLabel: { show: true, customValues: xTicks, margin: 9, fontSize: 23, color: '#333', fontFamily: FONT },
      splitLine: { show: false }
    };
  }
  function yAxisFor(grid, max, tickVals, shift) {
    return {
      gridIndex: grid, type: 'value', min: 0, max: max, interval: 0.2,
      name: 'Body speed (m/s)', nameLocation: 'middle', nameGap: 68,
      nameTextStyle: { fontSize: 36, color: '#1a1a1a', fontFamily: FONT, padding: [0, shift, 0, 0] },
      axisLine: { show: true, lineStyle: { color: '#111', width: grid ? 2.2 : 1.6 } },
      axisTick: { show: true, inside: true, length: 11, customValues: tickVals, lineStyle: { color: '#111', width: 1.5 } },
      axisLabel: {
        show: true, customValues: yTicks, margin: 10, fontSize: 23, color: '#333', fontFamily: FONT,
        formatter: function (v) { return v === 0 ? '0' : v.toFixed(1); }
      },
      splitLine: { show: false }
    };
  }

  function legendLine(x1, x2, y, color, w) {
    return { type: 'line', z: 21, shape: { x1: x1, y1: y, x2: x2, y2: y }, style: { stroke: color, lineWidth: w } };
  }
  function label(x, y, text, size, extra) {
    var el = { type: 'text', x: x, y: y, z: 22,
      style: { text: text, fontSize: size, fontFamily: FONT, fill: '#000', align: 'left', verticalAlign: 'middle' } };
    if (extra) Object.keys(extra).forEach(function (k) { el.style[k] = extra[k]; });
    return el;
  }

  var graphics = [
    // figure frame
    { type: 'rect', z: 0, shape: { x: 8, y: 10, width: 1340, height: 1640 }, style: { fill: 'none', stroke: '#555', lineWidth: 1.5 } },
    // titles
    label(26, 46, '{b|A}. Speed vs. time', 39.5, { rich: { b: { fontWeight: 'bold', fontSize: 39.5, fontFamily: FONT } } }),
    label(26, 852, '{b|B}. Speed vs. time, normalized', 39.5, { rich: { b: { fontWeight: 'bold', fontSize: 39.5, fontFamily: FONT } } }),
    // "Longer bouts" arrow
    { type: 'rect', z: 3, shape: { x: 487, y: 442.5, width: 457, height: 13 }, style: { fill: '#d6d6d6' } },
    { type: 'polygon', z: 3, shape: { points: [[943, 421], [972, 449], [943, 478]] }, style: { fill: '#d6d6d6' } },
    label(565, 509, 'Longer bouts', 44, { fill: '#7b7b7b' }),
    // legend A
    { type: 'rect', z: 20, shape: { x: 929, y: 77, width: 366, height: 93, r: 4 },
      style: { fill: '#fff', stroke: '#222', lineWidth: 1.2, shadowBlur: 6, shadowOffsetX: 4, shadowOffsetY: 5, shadowColor: 'rgba(0,0,0,0.45)' } },
    legendLine(951, 1009, 105, '#ff5500', 3.5),
    legendLine(951, 1009, 113, '#ffaa00', 3.5),
    legendLine(951, 1009, 137, '#ffb496', 2.2),
    legendLine(951, 1009, 141.5, '#ffd98c', 2.2),
    legendLine(951, 1009, 146, '#a6ffd8', 2.2),
    label(1021, 107, 'One subject, all trials', 27),
    label(1021, 140, 'All subjects, all trials', 27),
    // legend B
    { type: 'rect', z: 20, shape: { x: 842, y: 835, width: 285, height: 87, r: 4 },
      style: { fill: '#fff', stroke: '#222', lineWidth: 1.2, shadowBlur: 6, shadowOffsetX: 4, shadowOffsetY: 5, shadowColor: 'rgba(0,0,0,0.45)' } },
    legendLine(863, 921, 865, '#000', 4.5),
    legendLine(863, 921, 891, '#ff5500', 1.5),
    legendLine(863, 921, 895.5, '#ffaa00', 1.5),
    legendLine(863, 921, 900, '#40ff98', 1.5),
    label(933, 864, 'Average bouts', 27),
    label(933, 895, 'All normalized', 27),
    // guide annotations
    { type: 'text', x: 1116, y: 994, z: 22,
      style: { text: 'Speed norm', fontSize: 24, fontFamily: NOTE_FONT, fill: '#000', align: 'left', verticalAlign: 'middle' } },
    { type: 'text', x: 1110, y: 1140, z: 22, rotation: Math.PI / 2,
      style: { text: 'Timing norm', fontSize: 24, fontFamily: NOTE_FONT, fill: '#000', align: 'center', verticalAlign: 'middle' } }
  ];

  var chart = echarts.init(document.getElementById('chart'), null, { renderer: 'canvas' });
  chart.setOption({
    backgroundColor: '#ffffff',
    animation: false,
    grid: [
      { left: 141, top: 99, width: 1152, height: 588 },
      { left: 141, top: 890.5, width: 1152, height: 611.5 }
    ],
    xAxis: [xAxisFor(0), xAxisFor(1)],
    yAxis: [yAxisFor(0, yMaxA, yTicks, 40), yAxisFor(1, yMaxB, yTicks.concat([yMaxB]), 68)],
    series: series,
    graphic: { elements: graphics }
  });
</script>
</body>
</html>
